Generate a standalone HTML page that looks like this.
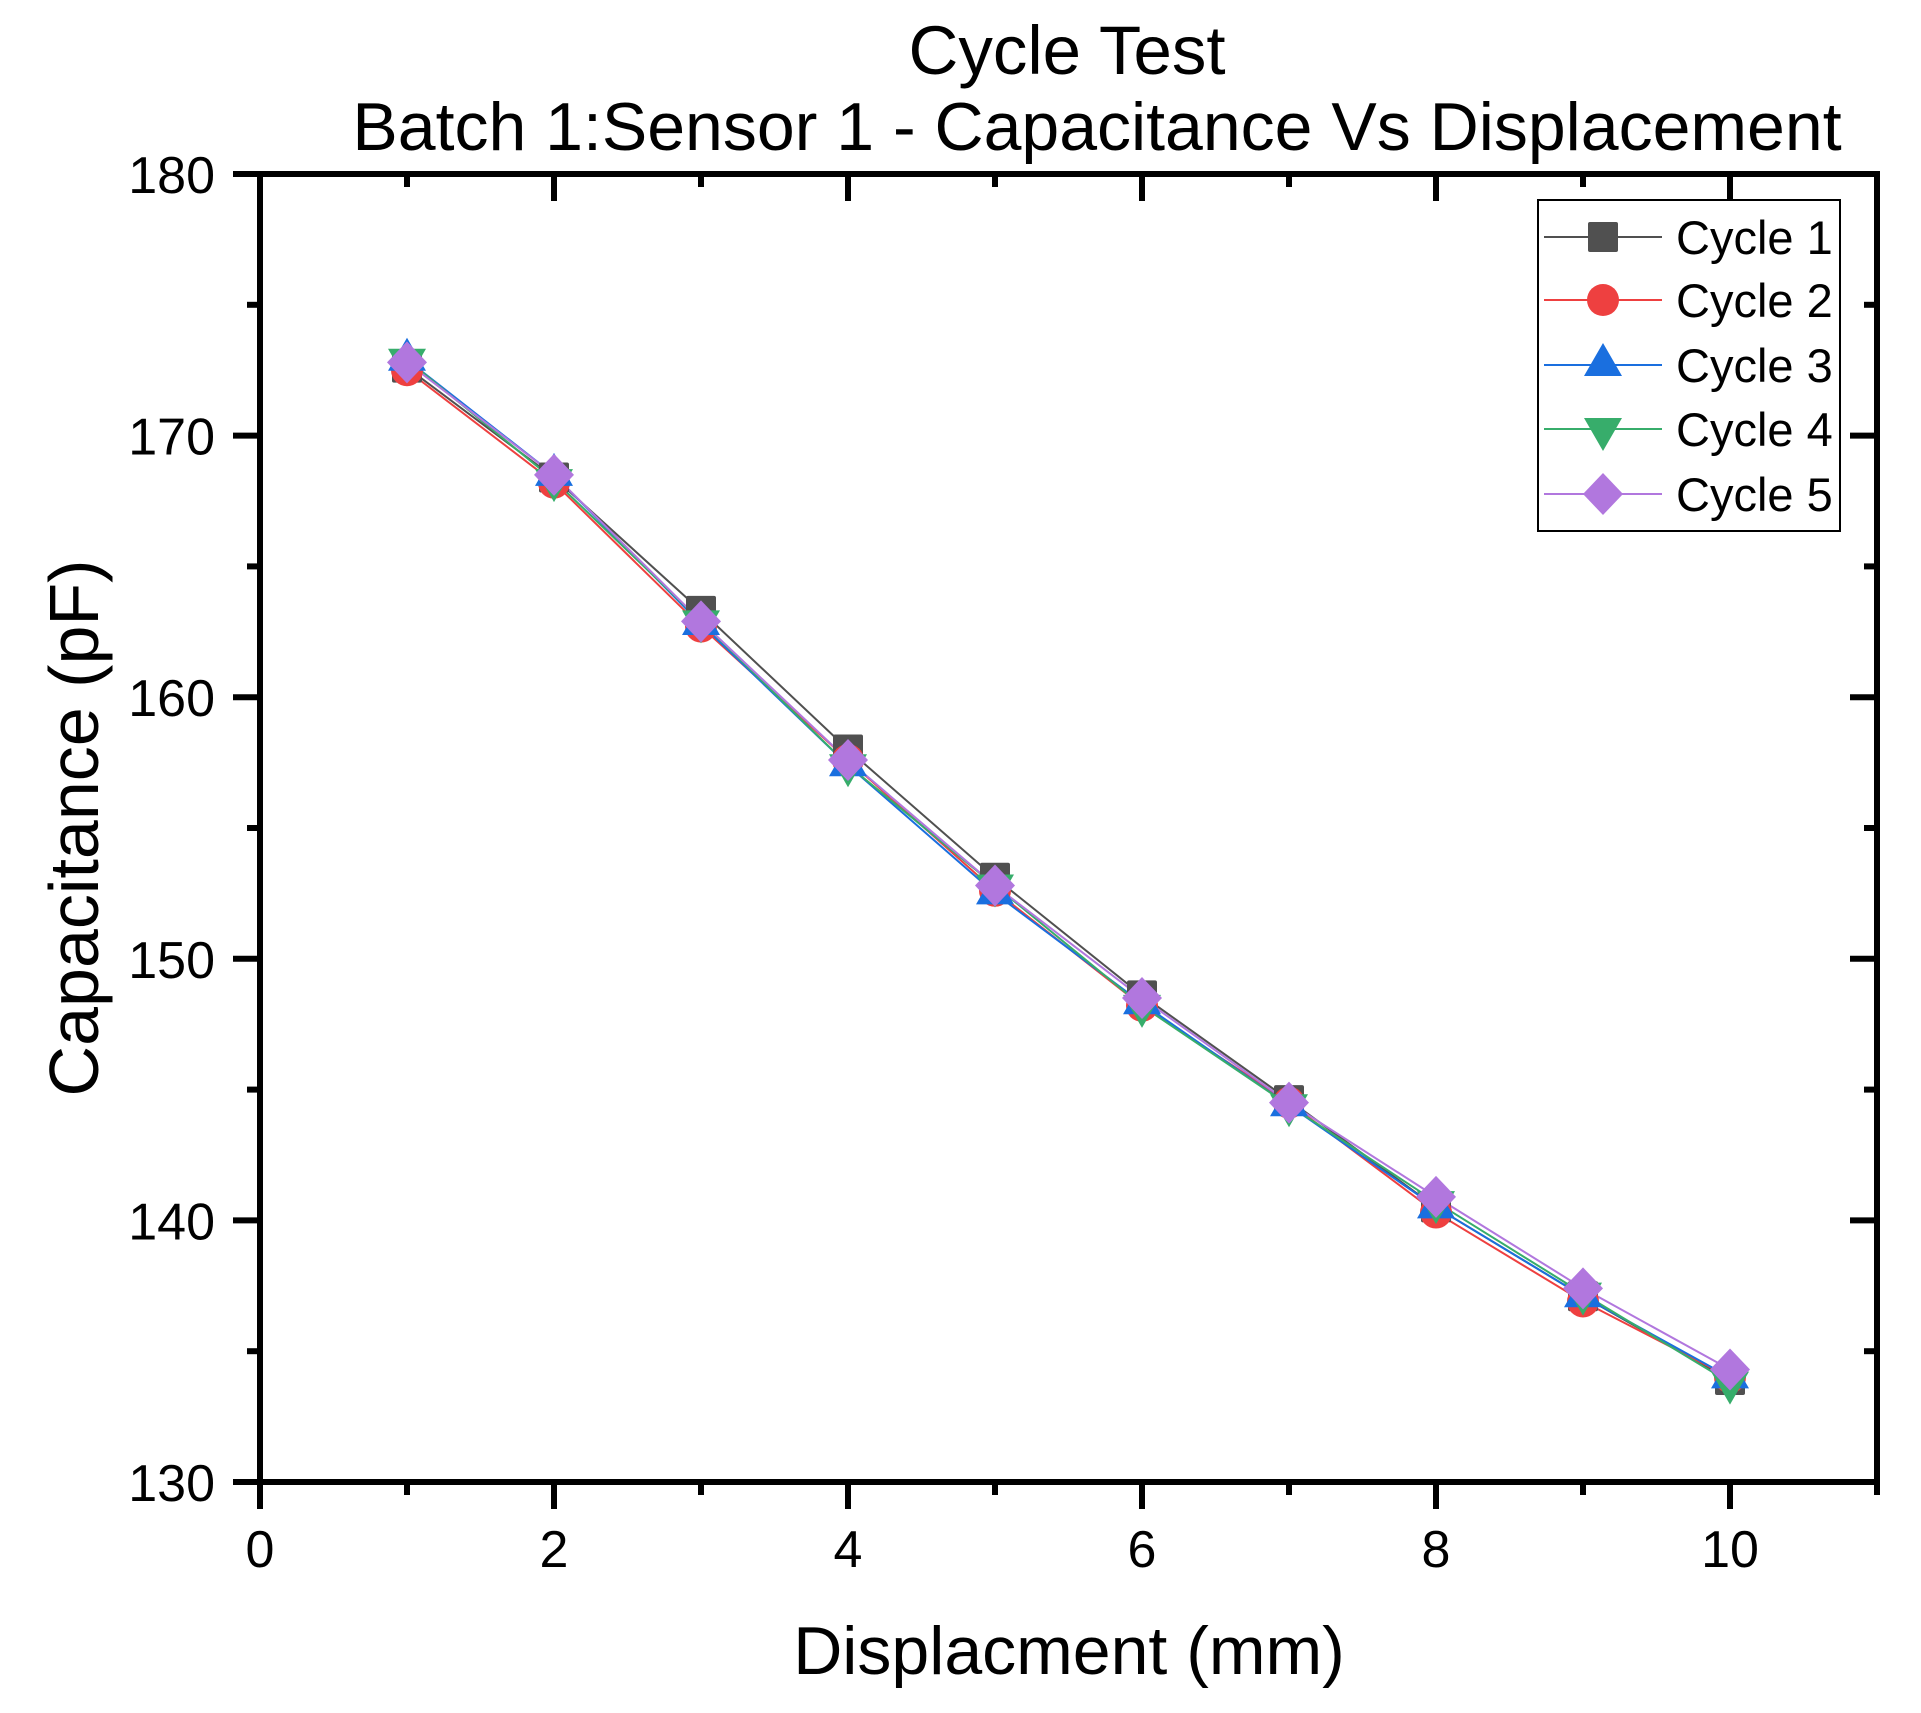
<!DOCTYPE html>
<html><head><meta charset="utf-8"><style>
html,body{margin:0;padding:0;background:#fff;}
svg text{font-family:"Liberation Sans",Arial,sans-serif;fill:#000;}
</style></head><body>
<svg id="s" width="1921" height="1708" viewBox="0 0 1921 1708" xmlns="http://www.w3.org/2000/svg">
<rect width="1921" height="1708" fill="#fff"/>
<text x="1067" y="74" font-size="69" text-anchor="middle">Cycle Test</text>
<text x="1097" y="150" font-size="68" text-anchor="middle">Batch 1:Sensor 1 - Capacitance Vs Displacement</text>
<text x="1069" y="1674" font-size="68" text-anchor="middle">Displacment (mm)</text>
<text transform="translate(98,828) rotate(-90)" font-size="70" text-anchor="middle">Capacitance (pF)</text>
<g id="axes"></g>
<g id="data"></g>
<g id="leg"></g>
</svg>
<script>
var NS="http://www.w3.org/2000/svg";
function el(p,t,a,txt){var e=document.createElementNS(NS,t);for(var k in a)e.setAttribute(k,a[k]);if(txt!==undefined)e.textContent=txt;p.appendChild(e);return e;}
var L=260,R=1877,T=174,B=1482;
function X(v){return L+v*147;}
function Y(v){return B-(v-130)*26.16;}
var ax=document.getElementById('axes');
el(ax,'rect',{x:L,y:T,width:R-L,height:B-T,fill:'none',stroke:'#000','stroke-width':6});
for(var i=0;i<=11;i++){var x=X(i),maj=(i%2==0);var len=maj?27:13;
 el(ax,'line',{x1:x,y1:B,x2:x,y2:B+len,stroke:'#000','stroke-width':6});
 el(ax,'line',{x1:x,y1:T,x2:x,y2:T+len,stroke:'#000','stroke-width':6});
 if(maj&&i<=10)el(ax,'text',{x:x,y:1567,'font-size':52,'text-anchor':'middle'},String(i));}
for(var v=130;v<=180;v+=5){var y=Y(v),maj=(v%10==0);var len=maj?27:13;
 el(ax,'line',{x1:L,y1:y,x2:L-len,y2:y,stroke:'#000','stroke-width':6});
 el(ax,'line',{x1:R,y1:y,x2:R-len,y2:y,stroke:'#000','stroke-width':6});
 if(maj)el(ax,'text',{x:215,y:y+19,'font-size':52,'text-anchor':'end'},String(v));}
var cols=['#505050','#EE4040','#1A6FDF','#37AD6B','#B177DE'];
var d=[
[172.6,168.4,163.3,158.0,153.1,148.6,144.6,140.5,137.1,133.9],
[172.5,168.2,162.7,157.6,152.6,148.2,144.5,140.3,136.9,134.0],
[172.9,168.5,162.8,157.4,152.5,148.3,144.4,140.5,137.1,134.0],
[172.9,168.3,162.9,157.4,152.8,148.2,144.4,140.7,137.2,133.8],
[172.8,168.5,162.9,157.6,152.8,148.5,144.5,140.9,137.4,134.3]];
function marker(g,k,cx,cy,s){var c=cols[k];
 if(k==0)el(g,'rect',{x:cx-15,y:cy-15,width:30,height:30,rx:2,fill:c});
 else if(k==1)el(g,'circle',{cx:cx,cy:cy,r:16,fill:c});
 else if(k==2)el(g,'polygon',{points:(cx)+','+(cy-22)+' '+(cx-19)+','+(cy+11)+' '+(cx+19)+','+(cy+11),fill:c});
 else if(k==3)el(g,'polygon',{points:(cx)+','+(cy+22)+' '+(cx-19)+','+(cy-11)+' '+(cx+19)+','+(cy-11),fill:c});
 else el(g,'polygon',{points:cx+','+(cy-21)+' '+(cx+20)+','+cy+' '+cx+','+(cy+21)+' '+(cx-20)+','+cy,fill:c});}
var dg=document.getElementById('data');
for(var k=0;k<5;k++){var pts=d[k].map(function(v,i){return X(i+1)+','+Y(v);}).join(' ');
 el(dg,'polyline',{points:pts,fill:'none',stroke:cols[k],'stroke-width':2});}
for(var k=0;k<5;k++)for(var i=0;i<10;i++)marker(dg,k,X(i+1),Y(d[k][i]));
var lg=document.getElementById('leg');
el(lg,'rect',{x:1538,y:200,width:302,height:331,fill:'#fff',stroke:'#000','stroke-width':2});
var ys=[237,300,365,429,494];
for(var k=0;k<5;k++){var y=ys[k];
 el(lg,'line',{x1:1544,y1:y,x2:1662,y2:y,stroke:cols[k],'stroke-width':2});
 marker(lg,k,1603,y);
 el(lg,'text',{x:1676,y:y+17,'font-size':47},'Cycle '+(k+1));}
</script>
</body></html>
